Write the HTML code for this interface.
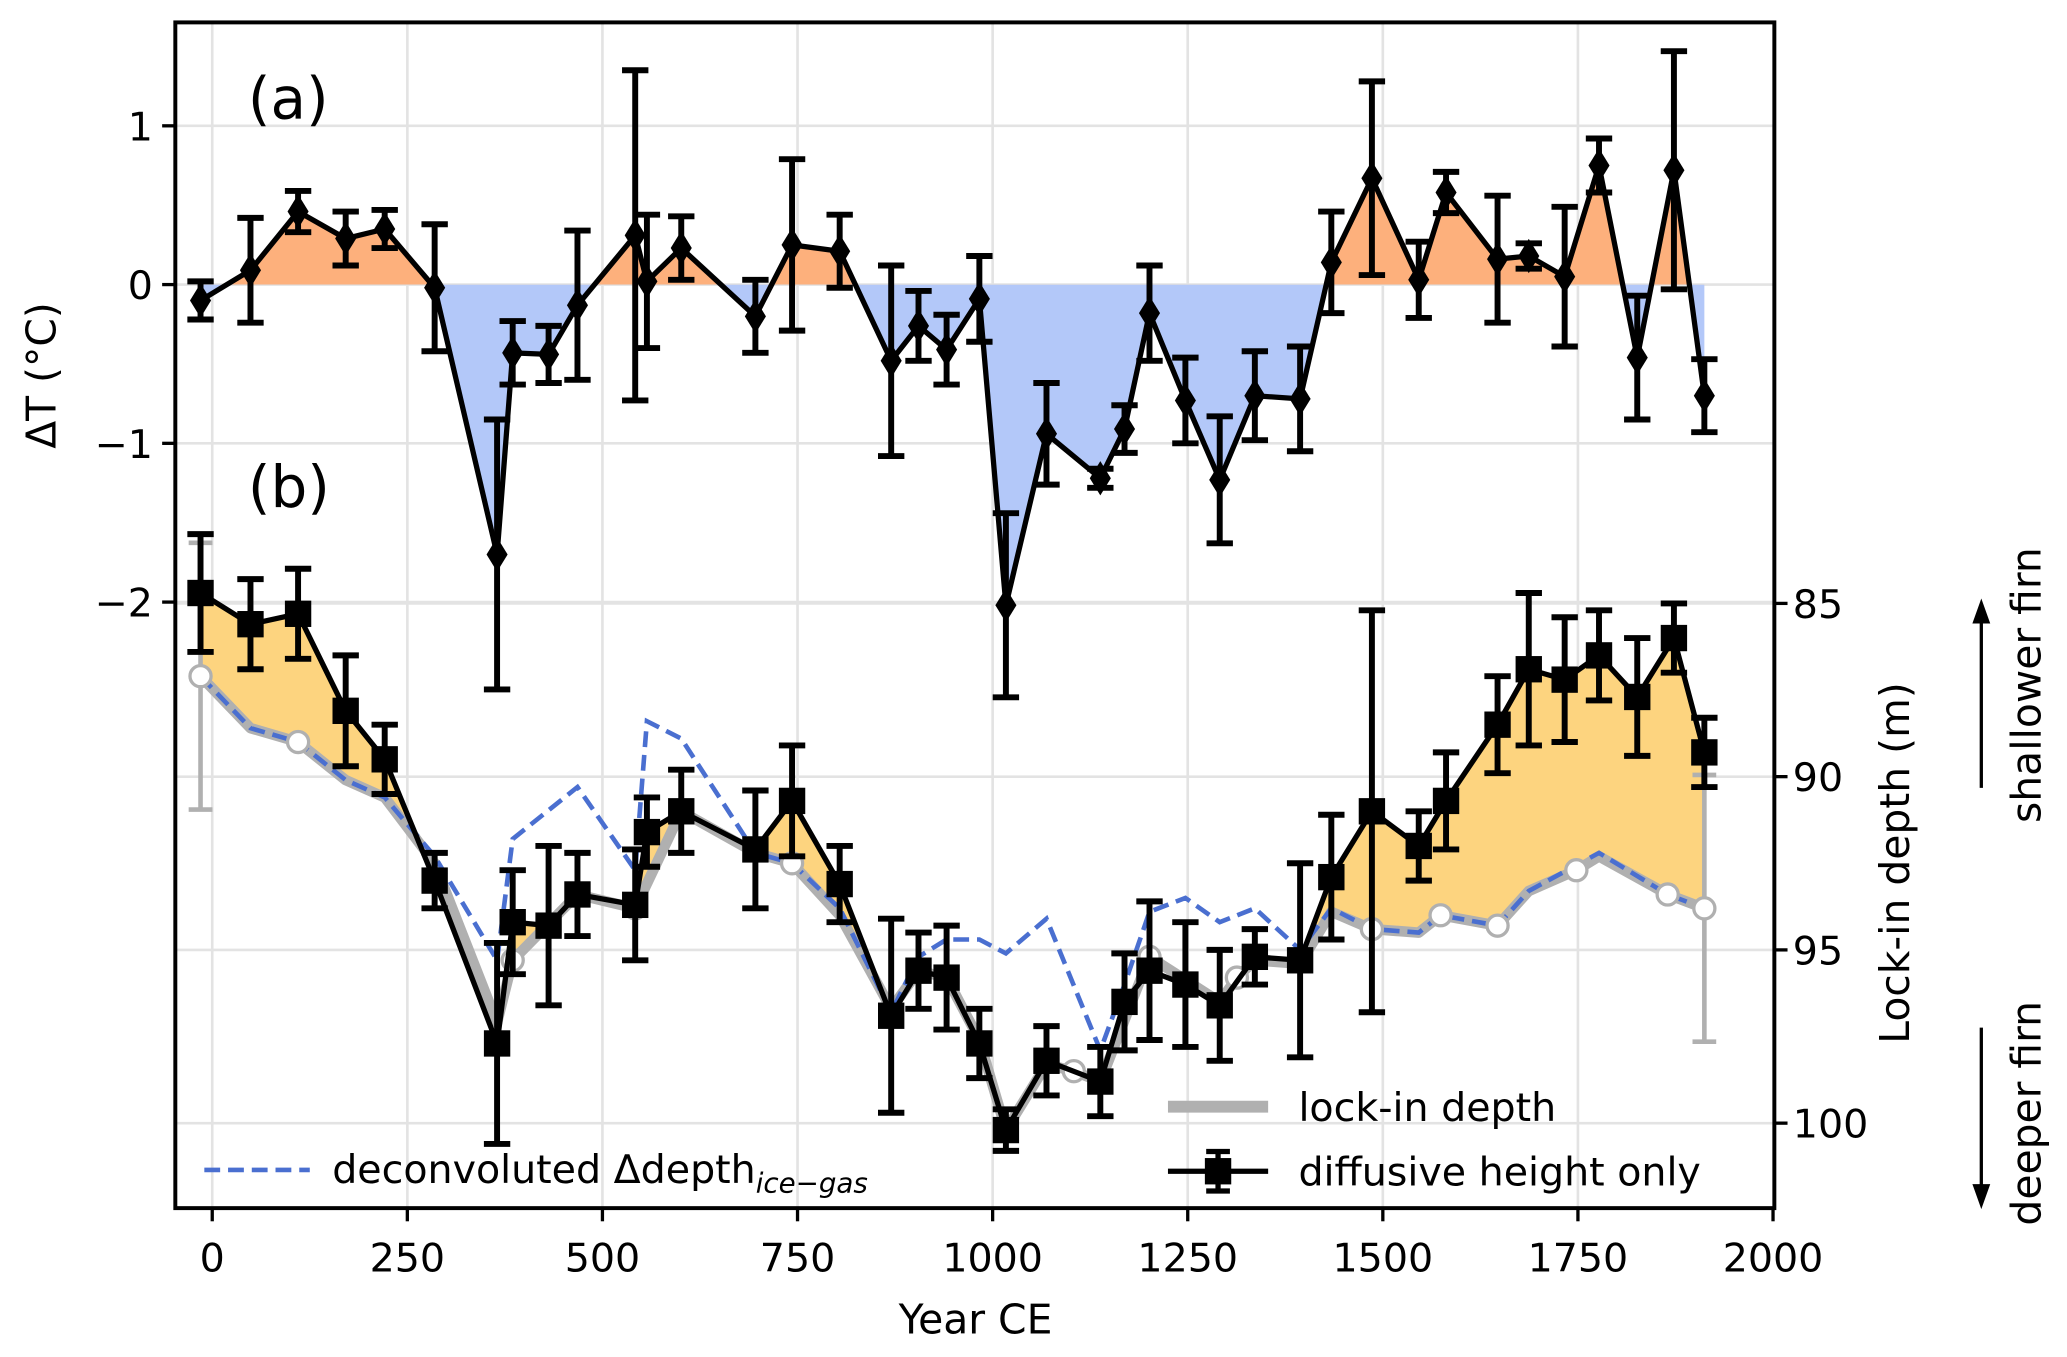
<!DOCTYPE html>
<html><head><meta charset="utf-8"><style>
html,body{margin:0;padding:0;background:#fff;}
svg{display:block;}
text{font-family:"DejaVu Sans","Liberation Sans",sans-serif;fill:#000;}
</style></head>
<body>
<svg id="chart" width="2067" height="1357" viewBox="0 0 1568 1030" preserveAspectRatio="none" xmlns="http://www.w3.org/2000/svg">
<defs>
<clipPath id="clipAbove"><rect x="0" y="0" width="1568" height="216"/></clipPath>
<clipPath id="clipBelow"><rect x="0" y="216" width="1568" height="800"/></clipPath>
<clipPath id="clipGray"><path id="grayClipPath" d=""/></clipPath>
<clipPath id="plotClip"><rect x="133" y="17" width="1213" height="900"/></clipPath>
</defs>
<g id="grid"></g>
<g id="fills" clip-path="url(#plotClip)"></g>
<g id="series" clip-path="url(#plotClip)"></g>
<g id="axes"></g>
<g id="labels"></g>
</svg>
<script>
// ---- data ----
const tYears = [-15,49,110,171,221,285,365,385,431,468,542,557,601,696,743,804,870,905,941,983,1017,1069,1138,1169,1201,1247,1291,1336,1394,1434,1486,1546,1581,1647,1687,1733,1777,1826,1873,1912];
const tValues = [-0.10,0.09,0.46,0.29,0.35,-0.02,-1.70,-0.43,-0.44,-0.13,0.31,0.02,0.23,-0.20,0.25,0.21,-0.48,-0.26,-0.41,-0.09,-2.02,-0.94,-1.22,-0.91,-0.18,-0.73,-1.23,-0.70,-0.72,0.14,0.67,0.03,0.58,0.16,0.18,0.05,0.75,-0.46,0.72,-0.70];
const tErrors = [0.12,0.33,0.13,0.17,0.12,0.40,0.85,0.20,0.18,0.47,1.04,0.42,0.20,0.23,0.54,0.23,0.60,0.22,0.22,0.27,0.58,0.32,0.06,0.15,0.30,0.27,0.40,0.28,0.33,0.32,0.61,0.24,0.13,0.40,0.08,0.44,0.17,0.39,0.75,0.23];

const dYears = tYears;
const dDepth = [84.7,85.6,85.3,88.1,89.5,93.0,97.7,94.2,94.3,93.4,93.7,91.6,91.0,92.1,90.7,93.1,96.9,95.6,95.8,97.7,100.2,98.2,98.8,96.5,95.6,96.0,96.6,95.2,95.3,92.9,91.0,92.0,90.7,88.5,86.9,87.2,86.5,87.7,86.0,89.3];
const dErrors = [1.7,1.3,1.3,1.6,1.0,0.8,2.9,1.5,2.3,1.2,1.6,1.0,1.2,1.7,1.6,1.1,2.8,1.1,1.5,1.0,0.6,1.0,1.0,1.4,2.0,1.8,1.6,0.8,2.8,1.8,5.8,1.0,1.4,1.4,2.2,1.8,1.3,1.7,1.0,1.0];

const lYears = [-15,49,110,171,221,285,365,385,468,542,601,696,743,804,870,905,941,983,1017,1069,1104,1138,1201,1291,1313,1336,1394,1434,1486,1546,1574,1647,1687,1748,1777,1865,1912];
const lDepth = [87.1,88.6,89.0,90.1,90.6,92.5,97.1,95.3,93.4,93.8,91.0,92.2,92.5,94.0,96.7,95.6,95.8,97.6,100.2,98.3,98.5,98.8,95.2,96.5,95.8,95.3,95.4,93.9,94.4,94.5,94.0,94.3,93.3,92.7,92.3,93.4,93.8];
const lCircle = [1,0,1,0,0,0,0,1,0,1,0,0,1,0,0,0,1,0,1,0,1,0,1,0,1,0,0,0,1,0,1,1,0,1,0,1,1];
const lErrYears = [-15,1912];
const lErrDepth = [87.1,93.8];
const lErrSize = [3.85,3.85];

const cYears = [-15,49,110,171,221,285,365,385,468,542,557,601,696,743,804,870,905,941,983,1017,1069,1138,1169,1201,1247,1291,1336,1394,1434,1486,1546,1574,1647,1687,1777,1865,1912];
const cDepth = [87.1,88.6,89.0,90.1,90.6,92.3,95.3,91.8,90.3,92.7,88.4,88.9,92.2,92.5,93.8,96.8,95.2,94.7,94.7,95.1,94.1,97.9,96.0,93.9,93.5,94.2,93.8,95.0,93.8,94.4,94.5,94.0,94.3,93.3,92.2,93.4,93.8];

const xTicks = [0,250,500,750,1000,1250,1500,1750,2000];
const tTicks = [1,0,-1,-2];
const tTickLabels = ["1","0","\u22121","\u22122"];
const dTicks = [85,90,95,100];

// ---- axes ----
const L=133,R=1346,T=17,B=917;
const X = yr => 161 + yr*0.592;
const YT = v => 216 - v*120.5;
const YD = d => 458 + (d-85)*26.3;
const NS="http://www.w3.org/2000/svg";
function mk(tag, attrs, parent){const e=document.createElementNS(NS,tag);for(const k in attrs)e.setAttribute(k,attrs[k]);parent.appendChild(e);return e;}
const grid=document.getElementById('grid'),fills=document.getElementById('fills'),series=document.getElementById('series'),axes=document.getElementById('axes'),labels=document.getElementById('labels');

xTicks.forEach(v=>{ if(X(v)<R-2){const g=mk('line',{x1:X(v),x2:X(v),y1:T,y2:B,stroke:'#e3e3e3','stroke-width':2},grid);

}});
tTicks.forEach(v=>{const g=mk('line',{x1:L,x2:R,y1:YT(v),y2:YT(v),stroke:'#e3e3e3','stroke-width':2},grid);

});
dTicks.forEach(v=>{const g=mk('line',{x1:L,x2:R,y1:YD(v),y2:YD(v),stroke:'#e3e3e3','stroke-width':2},grid);

});

const tPts = tYears.map((y,i)=>[X(y),YT(tValues[i])]);
const aPoly = 'M'+X(tYears[0])+','+YT(0)+' '+tPts.map(p=>'L'+p[0]+','+p[1]).join(' ')+' L'+X(tYears[tYears.length-1])+','+YT(0)+'Z';
const fo=mk('path',{d:aPoly,fill:'#fdb07c','clip-path':'url(#clipAbove)'},fills);


const fb=mk('path',{d:aPoly,fill:'#b3c8f9','clip-path':'url(#clipBelow)'},fills);



const lPts = lYears.map((y,i)=>[X(y),YD(lDepth[i])]);
const dPts = dYears.map((y,i)=>[X(y),YD(dDepth[i])]);
document.getElementById('grayClipPath').setAttribute('d','M'+lPts[0][0]+',0 '+lPts.map(p=>'L'+p[0]+','+p[1]).join(' ')+' L'+lPts[lPts.length-1][0]+',0Z');
const yPoly='M'+dPts[0][0]+','+B+' '+dPts.map(p=>'L'+p[0]+','+p[1]).join(' ')+' L'+dPts[dPts.length-1][0]+','+B+'Z';
const fy=mk('path',{d:yPoly,fill:'#fdd47f','clip-path':'url(#clipGray)'},fills);



const gl=mk('polyline',{points:lPts.map(p=>p.join(',')).join(' '),fill:'none',stroke:'#b0b0b0','stroke-width':8,'stroke-linejoin':'round'},series);


lErrYears.forEach((y,i)=>{const x=X(y),y1=YD(lErrDepth[i]-lErrSize[i]),y2=YD(lErrDepth[i]+lErrSize[i]);
const e=mk('path',{d:`M${x},${y1}L${x},${y2}M${x-9},${y1}L${x+9},${y1}M${x-9},${y2}L${x+9},${y2}`,stroke:'#b0b0b0','stroke-width':3.5,fill:'none'},series);

});
const cl=mk('polyline',{points:cYears.map((y,i)=>X(y)+','+YD(cDepth[i])).join(' '),fill:'none',stroke:'#4a6fd0','stroke-width':3.5,'stroke-dasharray':'12,6'},series);


lPts.forEach((p,i)=>{ if(lCircle[i]){const c=mk('circle',{cx:p[0],cy:p[1],r:8,fill:'#fff',stroke:'#b0b0b0','stroke-width':2.5},series);

}});

dPts.forEach((p,i)=>{const y1=YD(dDepth[i]-dErrors[i]),y2=YD(dDepth[i]+dErrors[i]);
const e=mk('path',{d:`M${p[0]},${y1}L${p[0]},${y2}M${p[0]-10},${y1}L${p[0]+10},${y1}M${p[0]-10},${y2}L${p[0]+10},${y2}`,stroke:'#000','stroke-width':4.5,fill:'none'},series);

});
const dl=mk('polyline',{points:dPts.map(p=>p.join(',')).join(' '),fill:'none',stroke:'#000','stroke-width':4,'stroke-linejoin':'round'},series);


dPts.forEach(p=>{const s=mk('rect',{x:p[0]-10,y:p[1]-10,width:20,height:20,fill:'#000'},series);

});

tPts.forEach((p,i)=>{const y1=YT(tValues[i]+tErrors[i]),y2=YT(tValues[i]-tErrors[i]);
const e=mk('path',{d:`M${p[0]},${y1}L${p[0]},${y2}M${p[0]-10},${y1}L${p[0]+10},${y1}M${p[0]-10},${y2}L${p[0]+10},${y2}`,stroke:'#000','stroke-width':4.5,fill:'none'},series);

});
const tl=mk('polyline',{points:tPts.map(p=>p.join(',')).join(' '),fill:'none',stroke:'#000','stroke-width':4,'stroke-linejoin':'round'},series);


tPts.forEach(p=>{const d=mk('path',{d:`M${p[0]},${p[1]-13}L${p[0]+8},${p[1]}L${p[0]},${p[1]+13}L${p[0]-8},${p[1]}Z`,fill:'#000'},series);

});

const fr=mk('rect',{x:L,y:T,width:R-L,height:B-T,fill:'none',stroke:'#000','stroke-width':3},axes);


xTicks.forEach(v=>{const x=X(v);
const t=mk('line',{x1:x,x2:x,y1:B,y2:B+10,stroke:'#000','stroke-width':2.5},axes);


const tx=mk('text',{x:x,y:B+48,'font-size':30,'text-anchor':'middle'},labels);tx.textContent=String(v);

});
tTicks.forEach((v,i)=>{const y=YT(v);
const t=mk('line',{x1:L-10,x2:L,y1:y,y2:y,stroke:'#000','stroke-width':2.5},axes);


const tx=mk('text',{x:L-17,y:y+11,'font-size':30,'text-anchor':'end'},labels);tx.textContent=tTickLabels[i];

});
dTicks.forEach(v=>{const y=YD(v);
const t=mk('line',{x1:R,x2:R+10,y1:y,y2:y,stroke:'#000','stroke-width':2.5},axes);


const tx=mk('text',{x:R+14,y:y+11,'font-size':30,'text-anchor':'start'},labels);tx.textContent=String(v);

});
</script>
<script>
(function(){
const labels=document.getElementById('labels');const NS="http://www.w3.org/2000/svg";
function t(name,x,y,size,txt,extra){const e=document.createElementNS(NS,'text');e.setAttribute('x',x);e.setAttribute('y',y);e.setAttribute('font-size',size);for(const k in (extra||{}))e.setAttribute(k,extra[k]);e.textContent=txt;


labels.appendChild(e);return e;}
t('x-axis-title',740,1012,31,'Year CE',{'text-anchor':'middle'});
t('y-axis-title-left',0,0,31,'\u0394T (\u00b0C)',{'text-anchor':'middle',transform:'translate(42,285) rotate(-90)'});
t('y-axis-title-right',0,0,31,'Lock-in depth (m)',{'text-anchor':'middle',transform:'translate(1448,655) rotate(-90)'});
t('shallower-firn-label',0,0,31,'shallower firn',{'text-anchor':'middle',transform:'translate(1548,520) rotate(-90)'});
t('deeper-firn-label',0,0,31,'deeper firn',{'text-anchor':'middle',transform:'translate(1548,845) rotate(-90)'});
t('panel-a-label',188,90,44,'(a)');
t('panel-b-label',188,385,44,'(b)');
function ar(name,d){const p=document.createElementNS(NS,'path');p.setAttribute('d',d);p.setAttribute('stroke','#000');p.setAttribute('stroke-width','2.5');p.setAttribute('fill','#000');


labels.appendChild(p);}
ar('shallower-arrow','M1503,598L1503,462M1498,472L1503,458L1508,472Z');
ar('deeper-arrow','M1503,780L1503,910M1498,900L1503,914L1508,900Z');
function ln(name,attrs){const p=document.createElementNS(NS,'line');for(const k in attrs)p.setAttribute(k,attrs[k]);


labels.appendChild(p);}
ln('legend-deconvoluted-swatch',{x1:155,x2:235,y1:888,y2:888,stroke:'#4a6fd0','stroke-width':3.5,'stroke-dasharray':'12,6'});
const lt=t('legend-deconvoluted-label',252,898,30,'deconvoluted \u0394depth');
const sub=document.createElementNS(NS,'tspan');sub.setAttribute('font-size',21);sub.setAttribute('font-style','italic');sub.setAttribute('dy',7);sub.textContent='ice\u2212gas';lt.appendChild(sub);
ln('legend-lockin-swatch',{x1:886,x2:962,y1:840,y2:840,stroke:'#b0b0b0','stroke-width':9});
t('legend-lockin-label',985,851,30,'lock-in depth');
ln('legend-diffusive-swatch',{x1:886,x2:962,y1:889,y2:889,stroke:'#000','stroke-width':4});
ln('legend-diffusive-err',{x1:924,x2:924,y1:874,y2:904,stroke:'#000','stroke-width':4});
ln('legend-diffusive-cap1',{x1:915,x2:933,y1:874,y2:874,stroke:'#000','stroke-width':4});
ln('legend-diffusive-cap2',{x1:915,x2:933,y1:904,y2:904,stroke:'#000','stroke-width':4});
const r=document.createElementNS(NS,'rect');r.setAttribute('x',914);r.setAttribute('y',879);r.setAttribute('width',20);r.setAttribute('height',20);


labels.appendChild(r);
t('legend-diffusive-label',985,900,30,'diffusive height only');
})();
</script>
</body></html>
